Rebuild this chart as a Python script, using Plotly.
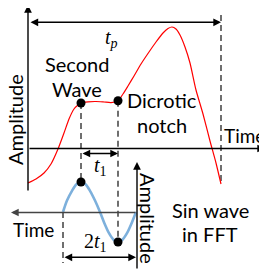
import plotly.graph_objects as go

# Pulse wave (red) – time vs amplitude (pixel-like units)
pulse_t = [28, 36, 44, 51, 58, 64, 69, 74, 78, 81, 88, 96, 104, 111, 118, 123, 128, 134, 141, 149, 156, 163, 168, 172, 176, 180, 185, 190, 196, 203, 210, 216, 221]
pulse_amp = [183, 179, 173, 164, 149, 133, 119, 109, 105, 103, 101.8, 101.5, 102, 102.6, 100.7, 94, 86, 76, 64, 52, 42, 33, 28.5, 27, 29, 35, 47, 63, 90, 114, 141, 163, 184]

# Sine wave (blue) used in FFT
sine_t = [63, 67, 72, 76.5, 81, 85.5, 90, 95, 100, 104.5, 109, 113.5, 118, 122.5, 127, 131.5, 136]
sine_amp = [212, 200.5, 190.8, 184.3, 182, 184.3, 190.8, 200.5, 212, 223.5, 233.2, 239.7, 242, 239.7, 233.2, 223.5, 212]

# Key points
pulse_pts_t = [81, 118]
pulse_pts_amp = [103, 100.7]
sine_pts_t = [81, 118]
sine_pts_amp = [182, 242]

FONT = "Lato"
fig = go.Figure()

fig.add_trace(go.Scatter(x=pulse_t, y=pulse_amp, mode="lines",
                         line=dict(color="#FF0000", width=1.2, shape="spline", smoothing=0.6),
                         hoverinfo="skip"))
fig.add_trace(go.Scatter(x=sine_t, y=sine_amp, mode="lines",
                         line=dict(color="#7DB0DC", width=2.6, shape="spline", smoothing=0.8),
                         hoverinfo="skip"))

dash_col = "#333333"
dashed = [(81, 103, 81, 182), (118, 100.7, 118, 242), (221, 15, 221, 184), (63, 212, 63, 263)]
for x0, y0, x1, y1 in dashed:
    fig.add_shape(type="line", x0=x0, y0=y0, x1=x1, y1=y1,
                  line=dict(color=dash_col, width=1.4, dash="6px,4px"), layer="below")

fig.add_trace(go.Scatter(x=pulse_pts_t + sine_pts_t, y=pulse_pts_amp + sine_pts_amp, mode="markers",
                         marker=dict(color="black", size=9), hoverinfo="skip"))

def arrow(x_head, y_head, x_tail, y_tail, both=False, color="black", width=1.4):
    fig.add_annotation(x=x_head, y=y_head, ax=x_tail, ay=y_tail, xref="x", yref="y",
                       axref="x", ayref="y", text="", showarrow=True, arrowhead=2,
                       arrowsize=1.1, arrowwidth=width, arrowcolor=color,
                       startarrowhead=2, startarrowsize=1.1,
                       arrowside="end+start" if both else "end")

arrow(28, 5, 28, 192)            # main amplitude axis
arrow(265, 148.5, 28, 148.5)     # main time axis
arrow(221, 22.3, 29, 22.3, both=True)   # t_p
arrow(118, 153.5, 81, 153.5, both=True)  # t1
arrow(11, 212.5, 137, 212.5, color="#444444")     # sine time axis
arrow(137, 162, 137, 270)        # sine amplitude axis
arrow(136, 257.3, 63, 257.3, both=True)  # 2t1

def label(x, y, text, size=20, angle=0, family=FONT):
    fig.add_annotation(x=x, y=y, xref="x", yref="y", text=text, showarrow=False,
                       textangle=angle, font=dict(family=family, size=size, color="black"),
                       xanchor="center", yanchor="middle")

label(15, 120, "Amplitude", angle=-90)
label(77, 64, "Second")
label(77, 89, "Wave")
label(162, 100, "Dicrotic")
label(162, 125, "notch")
label(244, 135, "Time", size=19)
label(33, 229, "Time", size=19)
label(210, 210, "Sin wave")
label(210, 234, "in FFT")
label(148, 218, "Amplitude", angle=90)
label(111, 38, "<i>t</i><sub><i>p</i></sub>", size=20, family="Liberation Serif")
label(100, 166, "<i>t</i><sub>1</sub>", size=20, family="Liberation Serif")
label(95, 242, "2<i>t</i><sub>1</sub>", size=20, family="Liberation Serif")

# page body has an 8px margin: make data units equal window pixels
fig.update_layout(width=259, height=267, margin=dict(l=0, r=0, t=0, b=0),
                  paper_bgcolor="white", plot_bgcolor="white", showlegend=False,
                  xaxis=dict(range=[8, 267], visible=False, fixedrange=True),
                  yaxis=dict(range=[275, 8], visible=False, fixedrange=True))

fig.write_html("out.html", config={"displayModeBar": False})
